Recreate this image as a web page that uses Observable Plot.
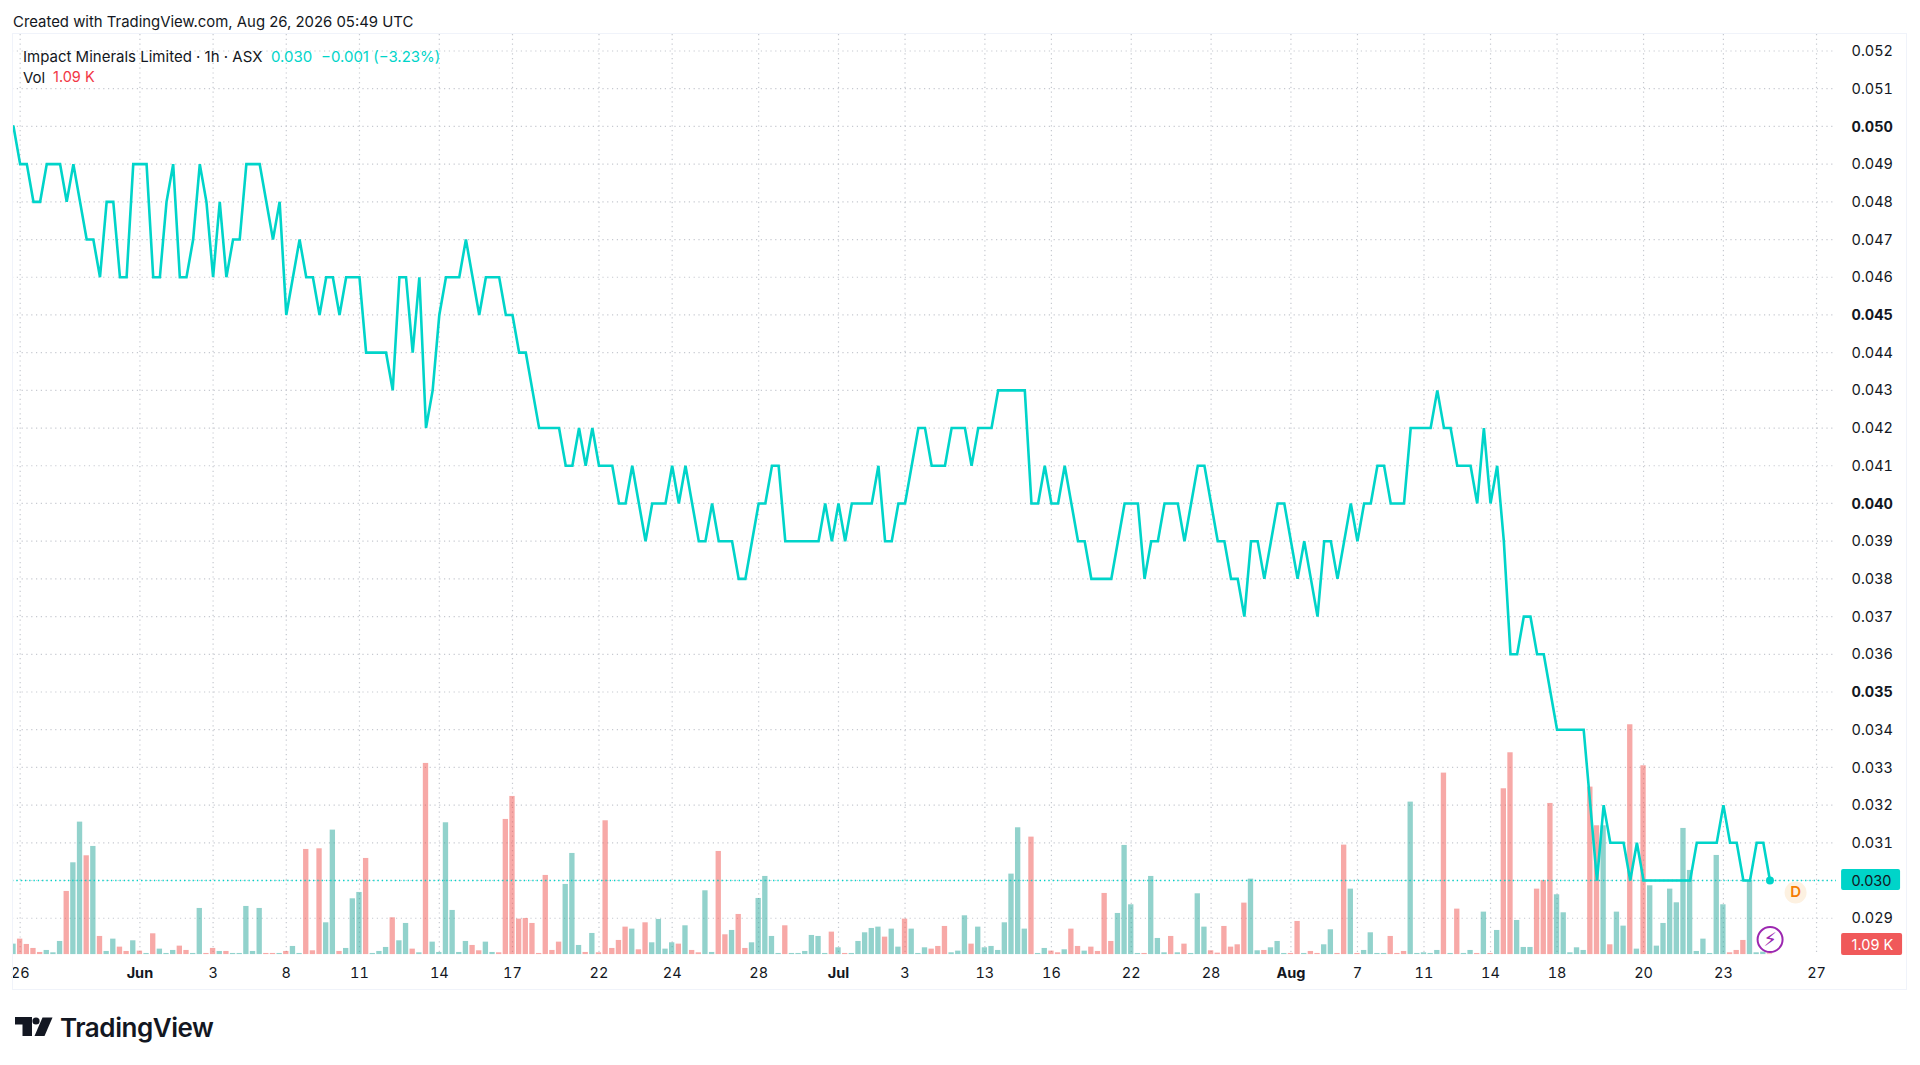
<!DOCTYPE html>
<html>
<head>
<meta charset="utf-8">
<script src="https://cdn.jsdelivr.net/npm/d3@7"></script>
<script src="https://cdn.jsdelivr.net/npm/@observablehq/plot@0.6"></script>
<style>
html,body{margin:0;padding:0;background:#fff;overflow:hidden}
#root{position:relative;width:1920px;height:1065px;font-family:Inter,sans-serif;color:#131722}
#root svg.plot{display:block;position:absolute;left:0;top:0;overflow:visible;background:transparent}
.t{position:absolute;white-space:pre;line-height:1}
#frame{position:absolute;left:12px;top:33px;width:1893px;height:955px;border:1px solid #f0f3fa}
</style>
</head>
<body>
<div id="root">
  <div id="frame"></div>
  <div id="chart"></div>
  <div class="t" style="left:13px;top:15px;font-size:14.9px">Created with TradingView.com, Aug 26, 2026 05:49 UTC</div>
  <div class="t" style="left:23px;top:49px;font-size:15px">Impact Minerals Limited · 1h · ASX</div>
  <div class="t" style="left:271px;top:49px;font-size:15px;color:#00d4c9">0.030</div>
  <div class="t" style="left:321px;top:49px;font-size:15px;color:#00d4c9">−0.001 (−3.23%)</div>
  <div class="t" style="left:23px;top:70px;font-size:15px">Vol</div>
  <div class="t" style="left:53px;top:70px;font-size:14.5px;color:#f23645">1.09 K</div>
  <svg style="position:absolute;left:15px;top:1017px" width="38" height="20" viewBox="0 0 38 20">
    <path d="M0 0H17V19H7.5V7.5H0Z" fill="#131722"/>
    <circle cx="21" cy="4" r="3.6" fill="#131722"/>
    <path d="M27.5 0.5H37.5L29.5 19H19.5Z" fill="#131722"/>
  </svg>
  <div class="t" style="left:60px;top:1015px;font-size:26px;font-weight:600;letter-spacing:-0.45px">TradingView</div>
</div>
<script>
// Close price per hourly bar, in thousandths of a dollar
const priceMils = [
50,49,49,48,48,49,49,49,48,49,48,47,47,46,48,48,46,46,49,49,49,46,46,48,49,46,46,47,49,48,46,48,46,47,47,49,49,49,48,47,48,45,46,47,46,46,
45,46,46,45,46,46,46,44,44,44,44,43,46,46,44,46,42,43,45,46,46,46,47,46,45,46,46,46,45,45,44,44,43,42,42,42,42,41,41,42,41,42,
41,41,41,40,40,41,40,39,40,40,40,41,40,41,40,39,39,40,39,39,39,38,38,39,40,40,41,41,39,39,39,39,39,39,40,39,40,39,40,40,40,40,41,39,39,
40,40,41,42,42,41,41,41,42,42,42,41,42,42,42,43,43,43,43,43,40,40,41,40,40,41,40,39,39,38,38,38,38,39,40,40,40,38,39,39,40,40,40,
39,40,41,41,40,39,39,38,38,37,39,39,38,39,40,40,39,38,39,38,37,39,39,38,39,40,39,40,40,41,41,40,40,40,42,42,42,42,43,42,42,41,41,
41,40,42,40,41,39,36,36,37,37,36,36,35,34,34,34,34,34,32,30,32,31,31,31,30,31,30,30,30,30,30,30,30,30,31,31,31,31,32,31,31,30,30,31,31,30
];
// Volume per bar, in approximate thousands of shares
const volumes = [
32,47,31,19,7,13,6,40,190,276,398,297,325,55,10,47,23,10,42,11,4,63,17,4,13,26,13,4,139,4,19,10,10,4,4,145,10,139,4,4,4,10,25,4,316,12,318,96,374,10,19,168,187,289,4,10,22,111,42,94,17,6,574,38,7,396,133,7,40,28,12,38,7,6,406,475,107,109,94,4,238,13,38,211,304,28,7,64,6,402,19,43,83,77,15,
96,36,106,17,36,32,87,13,6,192,7,310,60,73,121,19,36,169,235,55,4,87,4,4,10,58,55,4,68,21,4,4,40,66,79,83,53,77,23,107,77,4,21,17,25,85,6,11,117,32,83,21,25,13,96,242,381,77,353,4,19,11,6,15,77,25,11,23,10,184,40,124,328,150,4,4,235,49,6,55,6,32,4,183,83,12,5,85,23,30,155,227,
12,13,21,40,4,4,100,4,10,4,30,75,4,329,197,4,13,66,4,4,55,4,10,458,4,6,4,13,545,4,137,4,13,4,128,4,73,498,606,103,22,22,197,223,454,180,126,6,21,13,503,387,387,30,128,86,690,17,567,207,26,94,197,156,379,253,10,47,4,298,150,6,13,43,223,6,8,3
];
// u = up bar (teal), d = down bar (red), same order as volumes
const volumeSides = [
"udddduuudu","ududuuddud","uduuudduud","duduuuuudd","uduuddduud","uuuduuuduu","duduuuuuud","duuddddddd","ddduuududd","dddud",
"duuuu","dudduuddud","duuuuuduuu","uuududuuuu","uduuduuudd","duuuduuuuu","uuuduuddud","dudddduuuu","duuududuuu","dddddduudu",
"uuddudduud","duduuuuddd","uuuuududuu","dududduuud","dduuuuuddu","duududuuuu","uuuuuuuudd","duuud"
].join("").split("");
// Time axis: bar index and label of each tick
const dateTicks = [1,30,41,52,64,75,88,99,112,134,146,156,168,180,202,212,222,232,245,257,271];
const dateLabels = ["26","3","8","11","14","17","22","24","28","3","13","16","22","28","7","11","14","18","20","23","27"];
const monthTicks = [19,124,192];
const monthLabels = ["Jun","Jul","Aug"];
// Price axis
const priceTicksRegular = [0.029,0.031,0.032,0.033,0.034,0.036,0.037,0.038,0.039,0.041,0.042,0.043,0.044,0.046,0.047,0.048,0.049,0.051,0.052];
const priceTicksBold = [0.035,0.040,0.045,0.050];
const priceGrid = d3.range(29,53).map(v=>v/1000);
const lastPrice = 0.030;
const lastVolumeLabel = "1.09 K";

const teal="#00d4c9", upBar="#26a69a", downBar="#ef5350", gridC="#c6c9d0", ink="#131722";
const pxPerMil=37.7;
const yBase=0.02803;
// volume -> price-axis position, sharing the frame's y scale with the line
const volToY = v => yBase + (v/3)/pxPerMil/1000;
const yFromPx = px => lastPrice - (px-880)/pxPerMil/1000;
const xFromPx = px => (px-13)/6.653;

const prices = priceMils.map((m,i)=>({i,p:m/1000}));
const bars = volumes.map((v,i)=>({i,v,side:volumeSides[i]}));
const dateFmt = i => dateLabels[dateTicks.indexOf(i)];
const monthFmt = i => monthLabels[monthTicks.indexOf(i)];

const dash="1.2 3.6";
const chart = Plot.plot({
  width:1920,height:1065,
  marginTop:34,marginRight:84,marginBottom:110.7,marginLeft:12,
  style:{fontFamily:"Inter,sans-serif",fontSize:"14.5px",color:ink,background:"transparent"},
  x:{type:"linear",domain:[-0.15,274],label:null,axis:null},
  y:{type:"linear",domain:[yBase,0.052438],label:null,axis:null},
  marks:[
    Plot.gridY(priceGrid,{stroke:gridC,strokeOpacity:1,strokeDasharray:dash,strokeWidth:1.2}),
    Plot.gridX([...dateTicks,...monthTicks],{stroke:gridC,strokeOpacity:1,strokeDasharray:dash,strokeWidth:1.2}),
    Plot.rect(bars,{
      x1:d=>d.i-0.4,x2:d=>d.i+0.4,
      y1:()=>yBase,y2:d=>volToY(d.v),
      fill:d=>d.side==="u"?upBar:downBar,fillOpacity:0.5,clip:true
    }),
    Plot.ruleY([lastPrice],{stroke:teal,strokeDasharray:"1.3 3",strokeWidth:1.4}),
    Plot.line(prices,{x:"i",y:"p",stroke:teal,strokeWidth:2.6,strokeLinejoin:"miter",strokeMiterlimit:3,clip:true}),
    Plot.dot([prices[prices.length-1]],{x:"i",y:"p",r:4,fill:teal,stroke:"none"}),
    Plot.axisX(dateTicks,{anchor:"bottom",tickSize:0,tickPadding:13,tickFormat:dateFmt,label:null,fontSize:14.5,fill:ink}),
    Plot.axisX(monthTicks,{anchor:"bottom",tickSize:0,tickPadding:13,tickFormat:monthFmt,label:null,fontSize:14.5,fontWeight:700,fill:ink}),
    Plot.axisY(priceTicksRegular,{anchor:"right",tickSize:0,tickPadding:15,dy:0.5,tickFormat:d3.format(".3f"),label:null,fontSize:14.5,fill:ink}),
    Plot.axisY(priceTicksBold,{anchor:"right",tickSize:0,tickPadding:15,dy:0.5,tickFormat:d3.format(".3f"),label:null,fontSize:14.5,fontWeight:700,fill:ink}),
    // last-price and last-volume tags in the axis gutter
    Plot.rect([lastPrice],{x1:()=>xFromPx(1841),x2:()=>xFromPx(1900),y1:()=>yFromPx(869),y2:()=>yFromPx(890),fill:teal,rx:2}),
    Plot.text([lastPrice],{x:()=>xFromPx(1851),y:()=>yFromPx(880.5),text:d=>d3.format(".3f")(d),textAnchor:"start",fontSize:14.5,fill:ink}),
    Plot.rect([lastVolumeLabel],{x1:()=>xFromPx(1841),x2:()=>xFromPx(1902),y1:()=>yFromPx(933),y2:()=>yFromPx(955),fill:"#f0595a",rx:2}),
    Plot.text([lastVolumeLabel],{x:()=>xFromPx(1851),y:()=>yFromPx(944.5),text:d=>d,textAnchor:"start",fontSize:14.5,fill:"#fff"}),
    // dividend marker and alert badge
    Plot.dot(["D"],{x:()=>xFromPx(1795),y:()=>yFromPx(892),r:11,fill:"#fdf1e1",stroke:"none"}),
    Plot.text(["D"],{x:()=>xFromPx(1795),y:()=>yFromPx(892),text:d=>d,fontSize:15,fontWeight:600,fill:"#f57c00"}),
    Plot.dot(["bolt"],{x:()=>xFromPx(1769.5),y:()=>yFromPx(939),r:12.5,fill:"#fff",stroke:"#9c27b0",strokeWidth:2}),
    Plot.text(["\u26A1\uFE0E"],{x:()=>xFromPx(1769.5),y:()=>yFromPx(939),text:d=>d,fontSize:19,fontFamily:"DejaVu Sans",fill:"#9c27b0"})
  ]
});
document.getElementById("chart").appendChild(chart);
</script>
</body>
</html>
